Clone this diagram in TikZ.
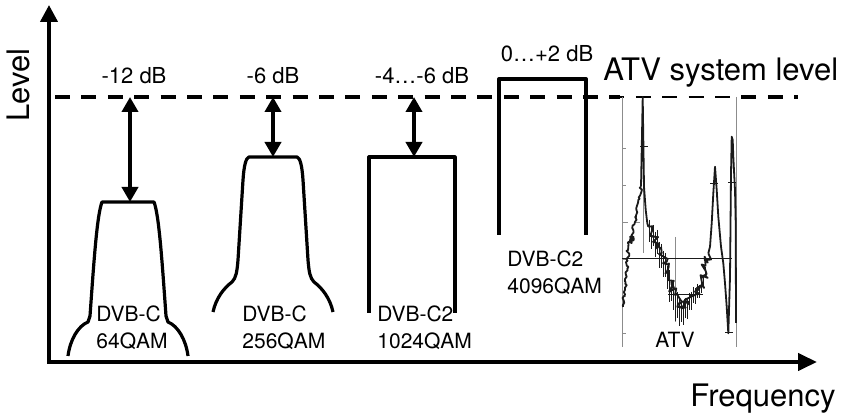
\documentclass[tikz,border=0pt]{standalone}
\usepackage{fontspec}
\setmainfont{TeX Gyre Heros}
\usepackage{tikz}
\usetikzlibrary{
  arrows.meta,
  decorations.pathmorphing
}
\definecolor{chLine}{HTML}{000000}
\definecolor{atvInk}{HTML}{1A1A1A}
\definecolor{atvGrid}{HTML}{8C8C8C}
\tikzset{
  axis/.style={line width=2pt, line join=miter,
    {Triangle[length=8.5pt,width=8.5pt]}-{Triangle[length=9.5pt,width=8.5pt]}},
  reflevel/.style={line width=2.3pt, dash pattern=on 7.5pt off 5.7pt},
  atvref/.style={line width=1.2pt, dash pattern=on 7.5pt off 5.7pt},
  channel/.style={line width=1.6pt, draw=chLine, line join=round},
  margin/.style={line width=2pt,
    {Triangle[length=7.5pt,width=8pt]}-{Triangle[length=7.5pt,width=8pt]}},
  biglabel/.style={font=\fontsize{15.5}{18}\selectfont, inner sep=0pt},
  dblabel/.style={font=\fontsize{11}{13}\selectfont, inner sep=0pt, anchor=base},
  modlabel/.style={font=\fontsize{10.5}{13.5}\selectfont, inner sep=0pt,
    align=left, anchor=north west},
  atvtrace/.style={line width=0.9pt, draw=atvInk, line join=round},
  atvhair/.style={line width=0.5pt, draw=atvInk},
  atvgrid/.style={line width=0.4pt, draw=atvGrid}
}

\begin{document}
\begin{tikzpicture}[x=0.5pt, y=-0.5pt]
  \useasboundingbox (0,0) rectangle (849,415);
  \pgfmathsetseed{7}

  % axes
  \coordinate (origin) at (49,362);
  \coordinate (ytip) at (49,5);
  \coordinate (xtip) at (817,362);
  \draw[axis] (ytip) -- (origin) -- (xtip);
  \node[biglabel, rotate=90] (level) at (18,85) {Level};
  \node[biglabel, anchor=base west] (freq) at (690,407) {Frequency};

  % ATV system level
  \coordinate (refstart) at (55,97);
  \coordinate (atvleft) at (620,97);
  \coordinate (atvright) at (738,97);
  \coordinate (refend) at (798,97);
  \draw[reflevel] (refstart) -- (atvleft);
  \draw[atvref, dash phase=5.3pt] (atvleft) -- (atvright);
  \draw[reflevel, dash phase=11.5pt] (atvright) -- (refend);
  \node[biglabel, anchor=base west] (atvlevel) at (603,81) {ATV system level};

  % channel spectra
  \draw[channel] (68,356) .. controls (70,340) and (78,326) .. (88,322) -- (90,316)
    .. controls (94,260) and (97,215) .. (102,202) -- (154,202)
    .. controls (159,215) and (162,260) .. (166,316) -- (168,322)
    .. controls (178,326) and (186,340) .. (188,356);
  \draw[channel] (213,312) .. controls (216,298) and (224,288) .. (232,282)
    .. controls (236,278) and (237,272) .. (238,260) -- (243,180)
    .. controls (244,165) and (246,158) .. (249,157) -- (297,157)
    .. controls (300,158) and (302,165) .. (303,180) -- (308,260)
    .. controls (309,272) and (310,278) .. (314,282)
    .. controls (322,288) and (330,298) .. (333,312);
  \draw[channel] (369,313) -- (369,157) -- (455,157) -- (455,313);
  \draw[channel, line width=2pt] (499,235) -- (499,79) -- (586,79) -- (586,235);

  % level margins
  \coordinate (ref64) at (130,97);   \coordinate (top64) at (130,202);
  \coordinate (ref256) at (273,97);  \coordinate (top256) at (273,157);
  \coordinate (ref1024) at (414,97); \coordinate (top1024) at (414,157);
  \draw[margin] (ref64) -- (top64);
  \draw[margin] (ref256) -- (top256);
  \draw[margin] (ref1024) -- (top1024);

  \node[dblabel] (db64) at (134,84) {-12 dB};
  \node[dblabel] (db256) at (273,84) {-6 dB};
  \node[dblabel] (db1024) at (422,84) {-4…-6 dB};
  \node[dblabel] (db4096) at (547,62) {0…+2 dB};

  \node[modlabel] (qam64) at (96,305) {DVB-C\\64QAM};
  \node[modlabel] (qam256) at (242,305) {DVB-C\\256QAM};
  \node[modlabel] (qam1024) at (377,305) {DVB-C2\\1024QAM};
  \node[modlabel] (qam4096) at (507,250) {DVB-C2\\4096QAM};

  % ATV spectrum
  \draw[atvgrid] (622,97) -- (622,347);
  \draw[atvgrid] (736,97) -- (736,347);
  \foreach \y in {148,185,222,259,296,333}
    \draw[atvgrid] (622,\y) -- (626,\y);
  \draw[atvgrid, dashed] (622,222) -- (646,222);
  \draw[atvgrid] (675,237) -- (675,322);
  \draw[atvgrid] (643,186) -- (643,253);
  \draw[atvhair] (622,259) -- (732,259);
  \draw[atvhair] (668,295) -- (703,295);
  \foreach \x/\y in {640/147,710/184,728/183,725/333}
    \draw[atvhair] (\x,\y) -- ++(8,0);
  \draw[atvtrace, decorate, decoration={random steps, segment length=1pt, amplitude=0.8pt}]
    (623,307) -- (625,290) -- (626.7,276.7) -- (628.3,246.7)
    -- (630,236.7) -- (631.7,243) -- (633.3,230) -- (635,221.7) -- (636.7,206.7)
    -- (638.3,200) -- (641,186.7);
  \draw[atvtrace] (641,186.7) -- (642.7,97) -- (644,186.7) -- (645.7,210)
    -- (647.3,223.3) -- (648.3,226.7);
  \draw[atvtrace, decorate, decoration={random steps, segment length=0.9pt, amplitude=2.2pt}]
    (648.3,226.7) -- (651.7,231.7) -- (655,236.7) -- (658.3,243.3) -- (661.7,253.3)
    -- (665,263.3) -- (668.3,275) -- (671.7,286.7) -- (675,295) -- (678.3,303.3)
    -- (681.7,308.3) -- (685,306) -- (688.3,301.7) -- (691.7,295) -- (695,291.7)
    -- (698.3,290) -- (701.7,285) -- (705,270) -- (708.3,253.3);
  \foreach \x/\y/\u/\d in {649/228/8/14,651/231/4/18,653/234/9/12,655/237/5/20,
      657/240/10/14,659/246/4/22,661/252/8/16,663/257/6/20,665/263/10/14,
      667/271/5/18,669/278/8/24,671/285/4/16,673/290/9/20,675/295/6/26,
      677/300/8/18,679/304/5/22,681/308/7/14,683/307/4/18,685/306/8/12,
      687/303/5/16,689/300/7/10,691/296/4/14,693/293/6/10,695/292/4/12,
      697/290/6/8,699/288/3/10,701/285/5/8,703/280/4/6,705/270/3/6}
    \draw[atvhair] (\x,{\y-\u}) -- (\x,{\y+\d});
  \draw[atvtrace] (708.3,253.3) -- (710,246.7) -- (711.7,223.3) -- (713.3,193.3)
    -- (715,166.7) -- (716.7,190) -- (718.3,216.7) -- (721,246.7) -- (723.3,263.3)
    -- (725,283.3) -- (726.7,306.7) -- (728.3,333.3) -- (730,276.7) -- (731,173.3)
    -- (731.7,136.7) -- (732.7,140) -- (733.3,156.7) -- (734.3,176.7) -- (735,190)
    -- (735.7,223.3) -- (736,323);
  \node[dblabel, font=\fontsize{10.5}{13}\selectfont] (atv) at (675,348) {ATV};
\end{tikzpicture}
\end{document}
